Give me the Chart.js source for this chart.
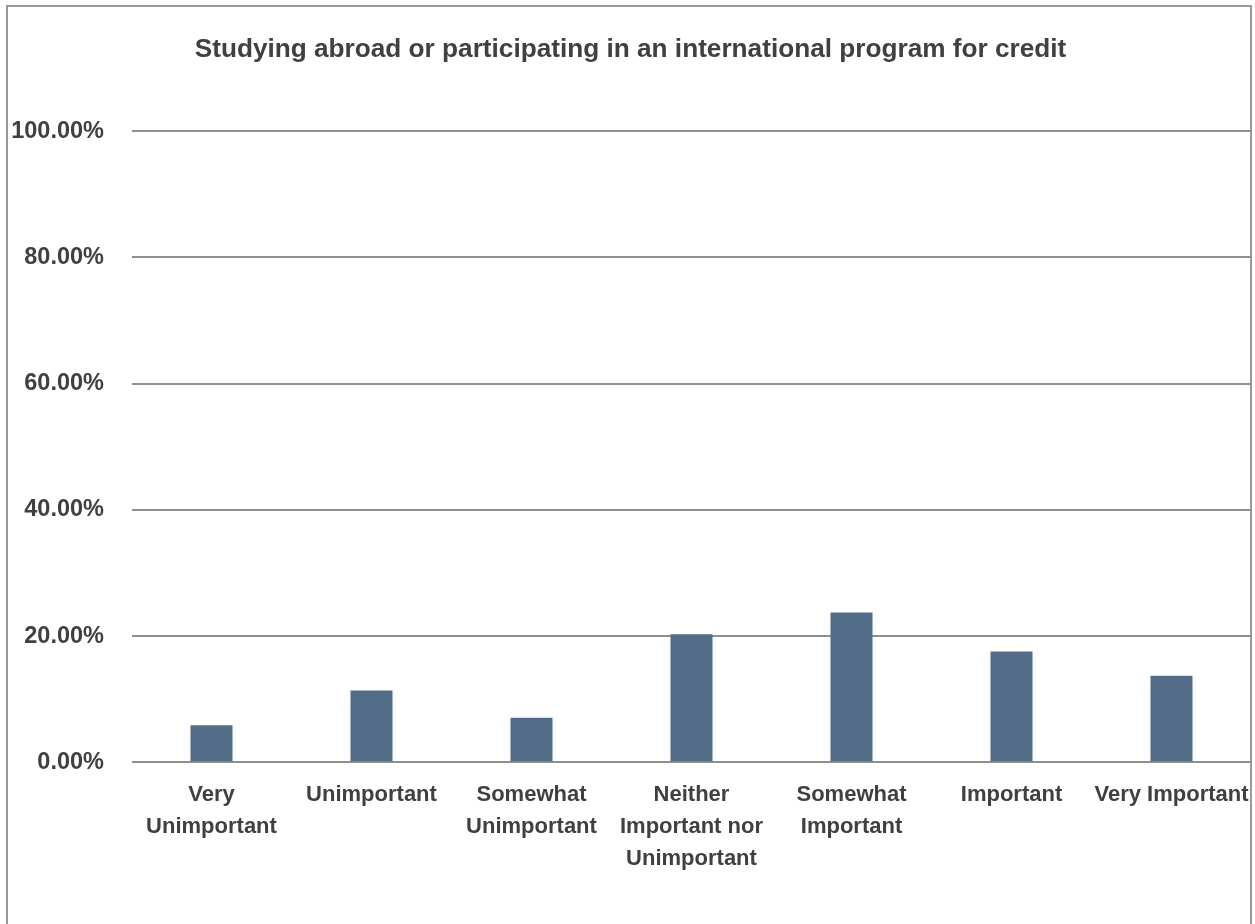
<!DOCTYPE html>
<html>
<head>
<meta charset="utf-8">
<script src="https://cdn.jsdelivr.net/npm/chart.js@4"></script>
<style>
html,body{margin:0;padding:0;background:#fff;}
#wrap{position:relative;width:1255px;height:924px;}
</style>
</head>
<body>
<div id="wrap"><canvas id="c"></canvas></div>
<script>
const chartTitle = 'Studying abroad or participating in an international program for credit';
const categories = [
  ['Very', 'Unimportant'],
  ['Unimportant'],
  ['Somewhat', 'Unimportant'],
  ['Neither', 'Important nor', 'Unimportant'],
  ['Somewhat', 'Important'],
  ['Important'],
  ['Very Important']
];
const percentValues = [5.85, 11.39, 7.06, 20.3, 23.73, 17.56, 13.7];
const yTicks = [0, 20, 40, 60, 80, 100];

const FONT = "'Liberation Sans', Arial, sans-serif";
const TEXT = '#404040';

const framePlugin = {
  id: 'frame',
  beforeDraw(chart) {
    const ctx = chart.ctx;
    ctx.save();
    ctx.fillStyle = '#ffffff';
    ctx.fillRect(0, 0, chart.width, chart.height);
    ctx.strokeStyle = '#9a9a9a';
    ctx.lineWidth = 2;
    ctx.strokeRect(7, 6, 1244, 940);
    ctx.restore();
  }
};

new Chart(document.getElementById('c'), {
  type: 'bar',
  data: {
    labels: categories,
    datasets: [{
      data: percentValues,
      backgroundColor: '#536d89',
      borderWidth: 0,
      categoryPercentage: 1,
      barPercentage: 0.2625
    }]
  },
  options: {
    responsive: true,
    maintainAspectRatio: false,
    animation: false,
    layout: { padding: { left: 9.5, right: 3.5, top: 0, bottom: 0 } },
    plugins: {
      legend: { display: false },
      tooltip: { enabled: false },
      title: {
        display: true,
        text: chartTitle,
        color: TEXT,
        font: { family: FONT, size: 26.2, weight: 'bold', lineHeight: 1.2 },
        padding: { top: 34, bottom: 65.6 }
      }
    },
    scales: {
      x: {
        grid: { display: false, drawTicks: false },
        border: { display: false },
        ticks: {
          color: TEXT,
          font: { family: FONT, size: 22, weight: 'bold', lineHeight: 1.45 },
          padding: 17,
          maxRotation: 0,
          autoSkip: false
        },
        afterFit(scale) {
          scale.height = 161.7;
          scale.paddingLeft = 0;
          scale.paddingRight = 0;
        }
      },
      y: {
        min: 0,
        max: 100,
        afterBuildTicks(scale) { scale.ticks = yTicks.map(v => ({ value: v })); },
        grid: { color: '#8e8e8e', lineWidth: 2, drawTicks: false },
        border: { display: false },
        ticks: {
          color: TEXT,
          font: { family: FONT, size: 23.5, weight: 'bold' },
          padding: 27.5,
          callback: v => Number(v).toFixed(2) + '%'
        },
        afterFit(scale) { scale.width = 122; }
      }
    }
  },
  plugins: [framePlugin]
});
</script>
</body>
</html>
